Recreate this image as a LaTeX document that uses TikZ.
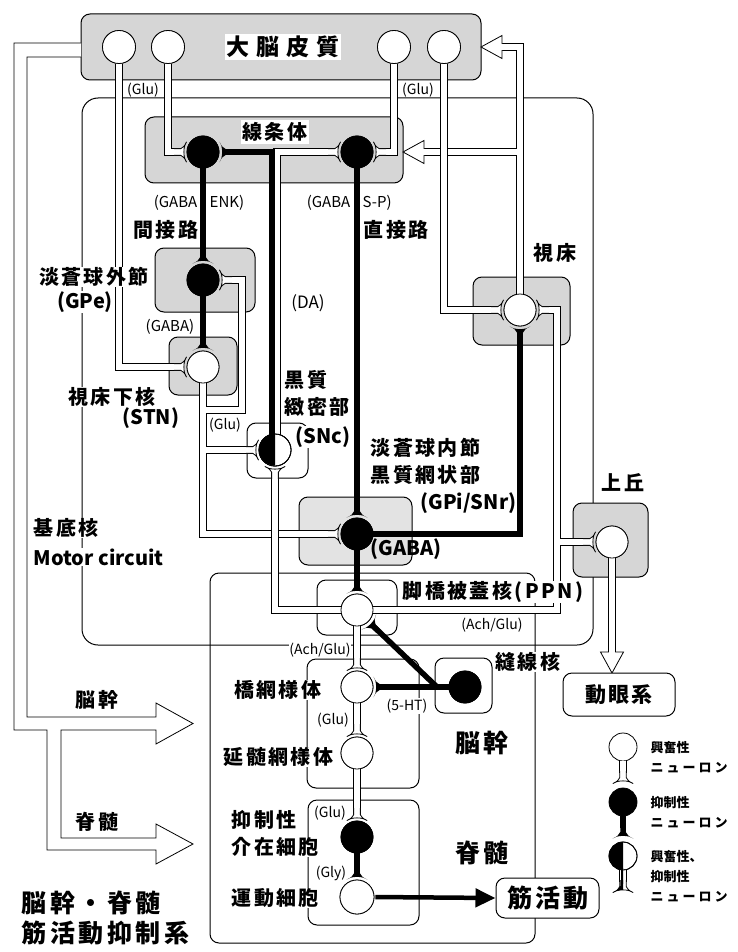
\documentclass[tikz,border=0pt]{standalone}
\usepackage{fontspec}
\setmainfont{Noto Sans CJK JP}
\usetikzlibrary{arrows.meta}
\definecolor{boxgray}{HTML}{D6D6D6}
\definecolor{boxgrayL}{HTML}{E3E3E3}
\newcommand\fsz[2]{\fontsize{#1}{#1}\selectfont\addfontfeatures{LetterSpace=#2}}
\tikzset{
  box/.style={draw=black, line width=1pt, rounded corners=9pt},
  gbox/.style={box, fill=boxgray},
  soma/.style={circle, draw=black, line width=0.8pt, minimum size=32pt, inner sep=0pt},
  esoma/.style={soma, fill=white},
  isoma/.style={soma, fill=black},
  hout/.style={line width=7.2pt, draw=black, shorten >=3pt},
  hin/.style={line width=5.6pt, draw=white, shorten >=3pt},
  inhax/.style={line width=5.5pt, draw=black, shorten >=3pt},
  lab/.style={font=\bfseries\fsz{20}{12}, inner sep=0.5pt},
  labL/.style={font=\bfseries\fsz{20}{0}, inner sep=0.5pt},
  big/.style={font=\bfseries\fsz{25}{14}, inner sep=0.5pt},
  sm/.style={font=\fsz{14}{0}, inner sep=0.5pt},
  leg/.style={font=\bfseries\fsz{13}{0}, inner sep=0.5pt},
  legk/.style={font=\bfseries\fsz{13}{23}, inner sep=0.5pt},
  pics/exs/.style={code={\filldraw[fill=white,draw=black,line width=0.8pt,line join=round]
     (-11,-3.2) -- (-4.5,-3.2) .. controls (-2,-3.8) and (-0.2,-6.5) .. (1.5,-10)
     .. controls (-2,-5.5) and (-2,5.5) .. (1.5,10)
     .. controls (-0.2,6.5) and (-2,3.8) .. (-4.5,3.2) -- (-11,3.2);}},
  pics/ins/.style={code={\fill[black]
     (-11,-2.75) -- (-5,-2.75) .. controls (-2,-3.6) and (-0.2,-6.5) .. (1.5,-10.3)
     .. controls (-2,-5.5) and (-2,5.5) .. (1.5,10.3)
     .. controls (-0.2,6.5) and (-2,3.6) .. (-5,2.75) -- (-11,2.75) -- cycle;}},
  pics/oarr/.style={code={\filldraw[fill=white,draw=black,line width=0.8pt]
     (-21,3.2) -- (-21,11.5) -- (0,0) -- (-21,-11.5) -- (-21,-3.2);}},
}
\begin{document}
\begin{tikzpicture}[x=1pt,y=-1pt]
\useasboundingbox (0,0) rectangle (738,952);
\fill[white] (0,0) rectangle (738,952);

% ---------- outline boxes ----------
\draw[box, rounded corners=16pt] (82,98) rectangle (593,645);
\draw[box] (210,573) rectangle (535,943);
\draw[box] (307,659) rectangle (419,788);
\draw[box] (308,800) rectangle (419,925);
\draw[box, fill=white] (435,658) rectangle (492,713);
\draw[box] (247,423) rectangle (308,478);
\draw[box, fill=white] (317,580) rectangle (397,635);

% ---------- gray boxes ----------
\draw[gbox] (81,14) rectangle (481,80);
\draw[gbox] (145,117) rectangle (403,183);
\draw[gbox] (155,248) rectangle (255,312);
\draw[gbox] (169,337) rectangle (237,395);
\draw[gbox, fill=boxgrayL] (299,497) rectangle (412,565);
\draw[gbox] (473,277) rectangle (570,345);
\draw[gbox] (573,503) rectangle (648,577);

% ---------- big left pipe with open arrows ----------
\filldraw[fill=white, draw=black, line width=0.8pt]
  (81,43) -- (14,43) -- (14,730) -- (47,730) -- (47,850) -- (156,850) -- (156,864)
  -- (193,844) -- (156,824) -- (156,838) -- (61,838) -- (61,730) -- (156,730)
  -- (156,744) -- (193,723.5) -- (156,703) -- (156,717) -- (27,717) -- (27,57) -- (81,57);

% ---------- somas ----------
\node[esoma, minimum size=33pt] (c1) at (119,47) {};
\node[esoma, minimum size=33pt] (c2) at (168,47) {};
\node[esoma, minimum size=33pt] (c3) at (394,47) {};
\node[esoma, minimum size=33pt] (c4) at (444,47) {};
\node[isoma] (sL) at (203,152) {};
\node[isoma] (sR) at (357,152) {};
\node[isoma] (gpe) at (203,280) {};
\node[esoma] (stn) at (203,367) {};
\node[esoma] (snc) at (275,450) {};
\node[isoma] (gpi) at (357,534) {};
\node[esoma] (thal) at (520,310) {};
\node[esoma] (sc) at (612,542) {};
\node[esoma] (ppn) at (357,610) {};
\node[esoma] (pons) at (357,687) {};
\node[esoma] (med) at (357,753) {};
\node[isoma] (inter) at (357,837) {};
\node[esoma, minimum size=34pt] (motor) at (357,897) {};
\node[isoma] (raphe) at (465,687) {};

% fork points
\coordinate (fStnL) at (185,367);
\coordinate (fSLl) at (185,152);
\coordinate (fSLr) at (221,152);
\coordinate (fSRl) at (339,152);
\coordinate (fSRr) at (375,152);
\coordinate (fThL) at (502,310);
\coordinate (fThR) at (538,310);
\coordinate (fThB) at (520,328);
\coordinate (fGpiL) at (339,534);
\coordinate (fGpiT) at (357,516);
\coordinate (fSncL) at (257,450);
\coordinate (fSncB) at (275,468);
\coordinate (fGpeR) at (221,280);
\coordinate (fGpeT) at (203,262);
\coordinate (fStnT) at (203,349);
\coordinate (fScL) at (594,542);
\coordinate (fPpnT) at (357,592);
\coordinate (fPpnD) at (370,623);
\coordinate (fPons) at (357,669);
\coordinate (fPonsR) at (375,687);
\coordinate (fMed) at (357,735);
\coordinate (fInt) at (357,819);
\coordinate (fMot) at (357,878);
\coordinate (hj) at (437,687);
\coordinate (aCtx) at (481,47);
\coordinate (aStr) at (403,152);
\coordinate (aOcu) at (612,673);

% ---------- hollow (excitatory) axons ----------
\newcommand\netThal[1]{%
  \draw[#1, shorten >=0pt] (thal.north) -- (520,47) -- (502,47);
  \draw[#1, shorten >=0pt] (520,152) -- (424,152);
}
\newcommand\netA[1]{%
  \draw[#1] (c1.south) -- (119,367) -- (fStnL);
  \draw[#1] (c2.south) -- (168,152) -- (fSLl);
  \draw[#1] (c3.south) -- (394,152) -- (fSRr);
  \draw[#1] (c4.south) -- (444,310) -- (fThL);
  \draw[#1] (stn.south) -- (203,534) -- (fGpiL);
  \draw[#1] (203,450) -- (fSncL);
  \draw[#1] (203,410) -- (242,410) -- (242,280) -- (fGpeR);
  \draw[#1] (277,440) -- (277,152) -- (fSRl);
}
\newcommand\netB[1]{%
  \draw[#1] (ppn.west) -- (275,610) -- (fSncB);
  \draw[#1] (ppn.east) -- (557,610) -- (557,310) -- (fThR);
  \draw[#1] (557,542) -- (fScL);
  \draw[#1] (ppn.south) -- (fPons);
  \draw[#1] (pons.south) -- (fMed);
  \draw[#1] (med.south) -- (fInt);
  \draw[#1, shorten >=0pt] (sc.south) -- (612,652);
}
\netThal{hout}\netThal{hin}
\netA{hout}\netA{hin}
\netB{hout}\netB{hin}

% ---------- black (inhibitory) axons ----------
\draw[inhax] (sL.south) -- (fGpeT);
\draw[inhax] (gpe.south) -- (fStnT);
\draw[inhax] (sR.south) -- (fGpiT);
\draw[inhax] (gpi.south) -- (fPpnT);
\draw[inhax] (gpi.east) -- (520,534) -- (fThB);
\draw[inhax] (272,440) -- (272,152) -- (fSLr);
\draw[inhax] (raphe.west) -- (fPonsR);
\draw[inhax] (hj) -- (fPpnD);
\draw[inhax] (inter.south) -- (fMot);

% ---------- somas on top ----------
\foreach \n in {stn,thal,sc,ppn,pons,med}{\draw[line width=0.8pt, fill=white] (\n) circle[radius=16pt];}
\foreach \n in {c1,c2,c3,c4}{\draw[line width=0.8pt, fill=white] (\n) circle[radius=16.5pt];}
\draw[line width=0.8pt, fill=white] (motor) circle[radius=17pt];
\foreach \n in {sL,sR,gpe,gpi,inter,raphe}{\draw[line width=0.8pt, fill=black] (\n) circle[radius=16pt];}
\draw[line width=0.8pt, fill=white] (snc) circle[radius=16pt];
\fill[black] (snc.north) arc[start angle=90, end angle=270, radius=16pt] -- cycle;
\draw[line width=0.8pt] (snc) circle[radius=16pt];

% ---------- synapse forks ----------
\pic[rotate=0] at (fStnL) {exs};
\pic[rotate=0] at (fSLl) {exs};
\pic[rotate=180] at (fSRr) {exs};
\pic[rotate=0] at (fSRl) {exs};
\pic[rotate=0] at (fThL) {exs};
\pic[rotate=180] at (fThR) {exs};
\pic[rotate=0] at (fGpiL) {exs};
\pic[rotate=0] at (fSncL) {exs};
\pic[rotate=90] at (fSncB) {exs};
\pic[rotate=180] at (fGpeR) {exs};
\pic[rotate=0] at (fScL) {exs};
\pic[rotate=-90] at (fPons) {exs};
\pic[rotate=-90] at (fMed) {exs};
\pic[rotate=-90] at (fInt) {exs};
\pic[rotate=180] at (fSLr) {ins};
\pic[rotate=-90] at (fGpeT) {ins};
\pic[rotate=-90] at (fStnT) {ins};
\pic[rotate=-90] at (fGpiT) {ins};
\pic[rotate=90] at (fThB) {ins};
\pic[rotate=-90] at (fPpnT) {ins};
\pic[rotate=180] at (fPonsR) {ins};
\pic[rotate=135.7] at (fPpnD) {ins};
\pic[rotate=-90] at (fMot) {ins};

% open arrowheads
\pic[rotate=180] at (aCtx) {oarr};
\pic[rotate=180] at (aStr) {oarr};
\pic[rotate=-90] at (aOcu) {oarr};

% ---------- named boxes with text ----------
\node[draw, line width=1pt, rounded corners=9pt, minimum width=112pt, minimum height=43pt,
      font=\bfseries\fsz{21}{10}, fill=white] (ocu) at (619,694.5) {動眼系};
\node[draw, line width=1pt, rounded corners=9pt, minimum width=103pt, minimum height=40pt,
      font=\bfseries\fsz{25}{12}, fill=white] (mus) at (547.5,898) {筋活動};
\draw[line width=4.5pt, shorten <=1pt, -{Triangle[length=20pt,width=18pt]}] (motor.east) -- (mus.west);

% ---------- labels ----------
\node[font=\bfseries\fsz{23}{30}, fill=white, inner sep=2pt] (tCtx) at (283,47) {大脳皮質};
\node[lab, fill=white, inner sep=2pt] (tStr) at (275,132) {線条体};
\node[sm] (g1) at (143,90) {(Glu)};
\node[sm] (g2) at (418,90) {(Glu)};
\node[sm, font=\fsz{15}{0}, anchor=east] (ga1) at (198,203) {(GABA};
\node[sm, font=\fsz{15}{0}, anchor=west] (ga1b) at (209,203) {ENK)};
\node[sm, font=\fsz{15}{0}, anchor=east] (ga2) at (351,203) {(GABA};
\node[sm, font=\fsz{15}{0}, anchor=west] (ga2b) at (362,203) {S-P)};
\node[lab, anchor=east] (tInd) at (199,230) {間接路};
\node[lab, anchor=west] (tDir) at (363,230) {直接路};
\node[sm, font=\fsz{17}{0}] (tDA) at (308,303) {(DA)};
\node[lab, fill=white] (tGPe) at (94,277) {淡蒼球外節};
\node[labL, fill=white] (tGPe2) at (85,302) {(GPe)};
\node[sm, font=\fsz{15}{0}] (tGaba) at (170,327) {(GABA)};
\node[lab, fill=white] (tSTN) at (112,397) {視床下核};
\node[labL, fill=white] (tSTN2) at (151,418) {(STN)};
\node[sm] (g3) at (225,425) {(Glu)};
\node[lab, anchor=west] (tSnc1) at (284,380) {黒質};
\node[lab, anchor=west] (tSnc2) at (284,407) {緻密部};
\node[labL, anchor=west, fill=white] (tSnc3) at (295,437) {(SNc)};
\node[lab, anchor=west] (tGpi1) at (370,448) {淡蒼球内節};
\node[lab, anchor=west] (tGpi2) at (370,475) {黒質網状部};
\node[labL, anchor=east] (tGpi3) at (517,503) {(GPi/SNr)};
\node[labL, anchor=west] (tGpi4) at (370,549) {(GABA)};
\node[lab] (tTh) at (555,253) {視床};
\node[lab] (tSc) at (623,483) {上丘};
\node[lab, anchor=west, fill=white] (tPPN) at (402,592) {脚橋被蓋核(PPN)};
\node[sm, fill=white] (ach1) at (492,625) {(Ach/Glu)};
\node[sm, fill=white] (ach2) at (320,650) {(Ach/Glu)};
\node[lab, fill=white] (tRa) at (528,662) {縫線核};
\node[sm, fill=white] (t5ht) at (407,706) {(5-HT)};
\node[lab, anchor=west, fill=white] (tBG1) at (33,528) {基底核};
\node[labL, anchor=west, fill=white] (tBG2) at (33,557) {Motor circuit};
\node[lab] (tBs) at (97,700) {脳幹};
\node[lab] (tSp) at (97,822) {脊髄};
\node[lab, anchor=east, fill=white] (tPons) at (322,690) {橋網様体};
\node[sm] (g4) at (333,720) {(Glu)};
\node[lab, anchor=east, fill=white] (tMed) at (334,757) {延髄網様体};
\node[sm] (g5) at (330,813) {(Glu)};
\node[lab, anchor=west, fill=white] (tInt1) at (231,820) {抑制性};
\node[lab, anchor=west, fill=white] (tInt2) at (231,847) {介在細胞};
\node[sm] (gly) at (331,873) {(Gly)};
\node[lab, anchor=west, fill=white] (tMot) at (231,898) {運動細胞};
\node[big] (tBs2) at (482,743) {脳幹};
\node[big] (tSp2) at (482,853) {脊髄};
\node[big, anchor=west] (tSys1) at (21,903) {脳幹・脊髄};
\node[big, anchor=west] (tSys2) at (21,933) {筋活動抑制系};

% ---------- legend ----------
\node[esoma, minimum size=28pt] (lgE) at (623,747) {};
\draw[hout, shorten >=0pt] (lgE.south) -- (623,773);
\draw[hin, shorten >=0pt] (lgE.south) -- (623,773);
\pic[rotate=-90] at (623,782) {exs};
\node[isoma, minimum size=28pt] (lgI) at (623,802) {};
\draw[inhax, shorten >=0pt] (lgI.south) -- (623,828);
\pic[rotate=-90] at (623,837) {ins};
\node[esoma, minimum size=28pt] (lgM) at (623,856) {};
\draw[hout, shorten >=0pt] (lgM.south) -- (623,882);
\draw[hin, shorten >=0pt] (lgM.south) -- (623,882);
\pic[rotate=-90] at (623,891) {exs};
\begin{scope}
  \clip (600,835) rectangle (623,903);
  \fill[black] (lgM) circle[radius=14pt];
  \draw[line width=3.6pt] (623,868) -- (623,884);
  \pic[rotate=-90] at (623,891) {ins};
\end{scope}
\draw[line width=0.8pt] (lgM) circle[radius=14pt];
\node[leg, anchor=west] (l1) at (650,748) {興奮性};
\node[legk, anchor=west] (l2) at (650,768) {ニューロン};
\node[leg, anchor=west] (l3) at (650,803) {抑制性};
\node[legk, anchor=west] (l4) at (650,823) {ニューロン};
\node[leg, anchor=west] (l5) at (650,857) {興奮性、};
\node[leg, anchor=west] (l6) at (650,877) {抑制性};
\node[legk, anchor=west] (l7) at (650,897) {ニューロン};
\end{tikzpicture}
\end{document}
